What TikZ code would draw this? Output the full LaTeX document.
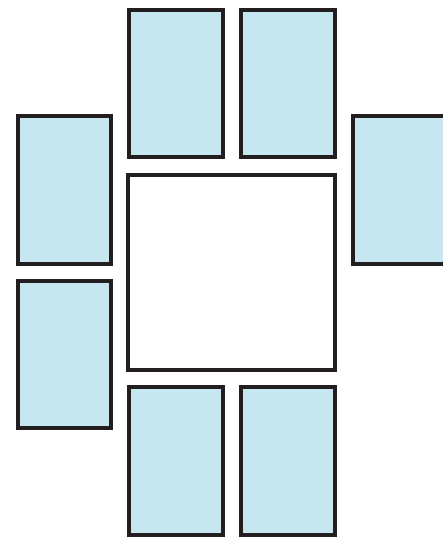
\documentclass[tikz,border=0pt]{standalone}
\usepackage{tikz}
\usepackage{xcolor}
\usetikzlibrary{positioning}
\definecolor{edgedark}{HTML}{231F20}
\definecolor{cardblue}{HTML}{C6E7F0}
\tikzset{
  card/.style={draw=edgedark, line width=0.08cm, fill=cardblue, inner sep=0pt,
               minimum width=1.87cm, minimum height=2.96cm},
  board/.style={draw=edgedark, line width=0.08cm, fill=white, inner sep=0pt,
                minimum width=4.14cm, minimum height=3.92cm},
}

\begin{document}
\begin{tikzpicture}[x=0.02cm, y=-0.02cm]
  \useasboundingbox (0,0) rectangle (443,538);
  \node[board] (table) at (231.5,272.5) {};
  \foreach \nm/\cx/\cy in {top1/176/83.5, top2/288/83.5, left1/64.3/190,
                           left2/64.3/354.5, right1/399.5/190,
                           bot1/176/461, bot2/288/461}{
    \node[card] (\nm) at (\cx,\cy) {};}
\end{tikzpicture}
\end{document}
